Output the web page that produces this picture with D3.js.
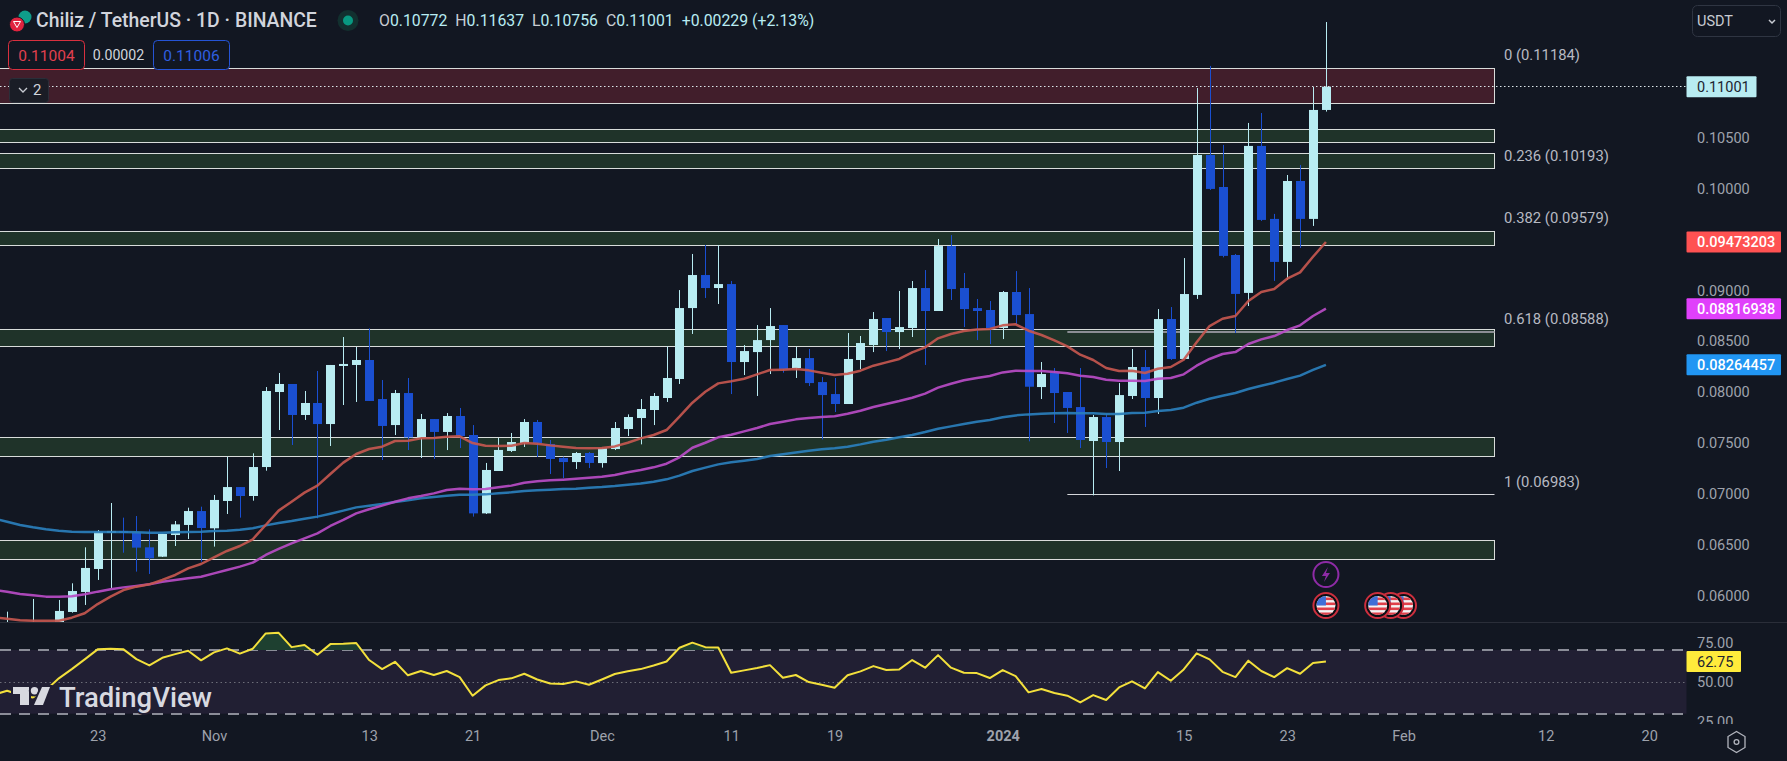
<!DOCTYPE html>
<html>
<head>
<meta charset="utf-8">
<script src="https://cdn.jsdelivr.net/npm/d3@7/dist/d3.min.js"></script>
<style>
html,body{margin:0;padding:0;background:#121722;overflow:hidden}
svg{display:block}
text{font-family:Roboto,"Noto Sans",sans-serif}
</style>
</head>
<body>
<svg id="c" width="1787" height="761"></svg>
<script>
// Prices are given in units of 0.00001 USDT.
const PRICE_UNIT = 1e-5;
const firstDay = Date.UTC(2023, 9, 15);

const highs = [5725,5836,5725,5961,5730,5951,6115,6469,6639,6905,6761,
6777,6646,6600,6728,6859,6869,6984,7361,7062,7394,
8046,8184,8076,8007,8204,8263,8538,8440,8623,8115,
8017,8135,7781,7731,7790,7840,7672,7299,7545,7594,
7731,7722,7525,7361,7407,7407,7449,7702,7777,7928,
7987,8446,9000,9355,9443,9443,9089,8459,8656,8823,
8656,8443,8420,8144,8135,8577,8548,8784,8725,8991,
9089,9197,9502,9541,9168,8912,8892,8991,9187,9020,
8292,8233,7997,8233,7771,7781,8085,8420,8410,8813,
8833,9315,10988,11205,10428,9355,10644,10742,9749,10132,
10231,10998,11637];
const lows = [5650,5660,5650,5660,5660,5680,5826,5902,6148,6069,6416,
6230,6207,6374,6482,6551,6328,6476,6797,6761,6928,
7223,7623,7476,7722,6754,7466,7869,7899,7909,7328,
7574,7426,7348,7338,7426,7446,6771,6797,7220,7407,
7456,7358,7190,7151,7240,7249,7253,7426,7564,7482,
7672,7899,8076,8568,8922,8863,7977,8164,7958,8174,
8187,8135,8056,7531,7800,7879,8223,8390,8400,8420,
8538,8263,8794,8902,8636,8508,8469,8518,8666,7512,
7928,7692,7594,7446,6980,7249,7220,7928,7653,7781,
8312,8322,8913,9985,9322,8577,8843,9680,9090,9099,
9414,9631,10756];
const opens = [5680,5690,5680,5700,5690,5700,5833,6030,6256,6616,6630,
6616,6469,6377,6590,6689,6826,6656,6925,7062,6974,
7259,7997,8076,7771,7889,7682,8253,8263,8312,7928,
7672,7987,7551,7731,7604,7761,7574,6803,7220,7417,
7495,7702,7486,7348,7308,7397,7298,7436,7633,7741,
7820,7938,8125,8823,9148,9020,9059,8292,8390,8508,
8656,8233,8331,8095,7977,7879,8312,8459,8725,8587,
8627,9020,8794,9433,9020,8823,8804,8627,8981,8764,
8046,8184,7997,7849,7515,7751,7505,7958,8243,7938,
8715,8322,8952,10329,10014,9345,8972,10418,9700,9277,
10073,9700,10772];
const closes = [5700,5720,5700,5725,5715,5843,6039,6266,6623,6630,6616,
6466,6361,6600,6695,6826,6659,6935,7062,6974,7259,
8007,8076,7771,7889,7682,8263,8273,8312,7909,7663,
7987,7551,7731,7604,7761,7564,6803,7230,7427,7505,
7702,7495,7338,7308,7397,7299,7443,7643,7751,7830,
7958,8135,8823,9148,9020,9059,8292,8400,8508,8646,
8223,8331,8085,7967,7879,8322,8479,8715,8587,8636,
9020,8794,9433,9010,8813,8794,8627,8981,8754,8049,
8174,7987,7840,7525,7751,7505,7967,8243,7938,8715,
8322,8961,10329,9995,9336,8962,10418,9690,9277,10073,
9700,10772,11001];

const emaRed = [5780,5767,5751,5747,5747,5747,5777,5820,5911,5984,6049,
6082,6105,6148,6197,6262,6305,6371,6433,6482,6548,
6689,6830,6918,7007,7076,7190,7302,7387,7436,7459,
7515,7518,7541,7545,7558,7561,7495,7469,7466,7469,
7495,7489,7472,7459,7446,7443,7446,7462,7498,7541,
7574,7623,7754,7892,8000,8082,8102,8128,8171,8213,
8217,8223,8210,8187,8164,8177,8207,8256,8289,8322,
8387,8436,8525,8568,8597,8613,8617,8653,8663,8600,
8558,8505,8446,8364,8312,8233,8204,8207,8184,8226,
8243,8315,8486,8646,8718,8745,8892,8981,9010,9112,
9174,9328,9473.203];
const emaPurple = [6050,6033,6010,5997,5984,5984,5987,6007,6033,6056,6075,
6089,6105,6131,6148,6164,6180,6213,6246,6279,6318,
6394,6453,6508,6557,6607,6679,6738,6803,6843,6879,
6918,6951,6974,7000,7033,7046,7040,7043,7059,7076,
7105,7118,7128,7135,7144,7154,7164,7180,7207,7230,
7256,7292,7354,7449,7498,7551,7577,7610,7643,7682,
7705,7728,7741,7751,7758,7784,7813,7849,7879,7908,
7941,7981,8040,8079,8112,8135,8154,8190,8207,8204,
8204,8194,8181,8158,8144,8118,8108,8108,8105,8128,
8135,8171,8256,8322,8371,8390,8469,8515,8548,8607,
8653,8745,8816.938];
const emaBlue = [6750,6721,6689,6666,6646,6633,6623,6620,6620,6620,6620,
6617,6613,6613,6617,6620,6623,6630,6633,6643,6656,
6685,6708,6728,6751,6771,6800,6830,6862,6879,6895,
6915,6931,6951,6964,6977,6987,6987,6990,7000,7010,
7023,7030,7036,7043,7046,7056,7062,7072,7085,7098,
7115,7138,7174,7220,7253,7285,7305,7321,7338,7367,
7384,7403,7420,7433,7443,7459,7482,7508,7528,7551,
7574,7603,7636,7659,7682,7705,7721,7748,7767,7777,
7784,7787,7790,7787,7787,7781,7781,7790,7794,7810,
7820,7843,7892,7931,7961,7987,8026,8059,8089,8125,
8158,8214,8264.457];
const rsiValues = [42,44.43,41.7,40.2,44.8,52.2,58,64.1,70.4,70.8,70.4,
64.3,60.3,65.1,67.4,69.5,63.5,68.5,71,67.7,70.8,
80.4,80.8,71.8,73.1,67,73.7,73.9,74.4,63.7,58,
62.6,54.1,56.8,54.3,56.8,53,41.3,47.8,51.1,52.2,
55.1,51.5,49,48.6,50.3,48.2,51.5,54.9,56.6,58,
60.3,62.8,71.4,74.6,71.8,71.6,55.7,57.2,58.7,60.5,
52.6,54.3,49.9,48.2,46.3,54.1,56.6,59.9,57.4,57.8,
63.7,58.9,66.8,58.9,55.7,55.5,52.4,57.4,53.6,43.4,
45.5,43,41.3,37.1,41.7,38.6,46.5,50.3,45.9,56.1,
50.7,57.8,67.9,64.1,56.3,53,63.3,56.8,53,58.6,
55.1,61.8,62.75];

const greenZones = [[10582,10454],[10346,10198],[9578,9440],[8614,8447],[7552,7365],[6541,6351]];
const redZones = [[11182,10837]];
const fibLevels = [["0",0.11184],["0.236",0.10193],["0.382",0.09579],["0.618",0.08588],["1",0.06983]];
const priceTicks = [0.105,0.10,0.09,0.085,0.08,0.075,0.07,0.065,0.06];
const rsiTicks = [75,50,25];
const timeTickDates = [[2023,9,23],[2023,10,1],[2023,10,13],[2023,10,21],[2023,11,1],[2023,11,11],[2023,11,19],[2024,0,1],[2024,0,15],[2024,0,23],[2024,1,1],[2024,1,12],[2024,1,20]];
const timeTickLabels = ["23","Nov","13","21","Dec","11","19","2024","15","23","Feb","12","20"];
const eventFlagDates = [[2024,0,26],[2024,0,30],[2024,0,31],[2024,1,1]];
const titleText = "Chiliz / TetherUS · 1D · BINANCE";
const ohlcParts = [["O","0.10772"],["H","0.11637"],["L","0.10756"],["C","0.11001"]];
const changeText = "+0.00229 (+2.13%)";

const N=highs.length, LAST=N-1;
[highs,lows,opens,closes,emaRed,emaPurple,emaBlue,rsiValues].forEach((a,i)=>{
  if(a.length!==N) throw new Error("array "+i+" has length "+a.length);
});

const BG="#121722", LIGHT="#b8ecf2", BLUE="#1a4fd1", GRID_TXT="#9ea2ac";
const W=1787,H=761,paneBottom=622,plotRight=1686.5,zoneRight=1494.5;
const svg=d3.select("#c");
svg.append("rect").attr("width",W).attr("height",H).attr("fill",BG);
const defs=svg.append("defs");
defs.append("clipPath").attr("id","mainClip").append("rect").attr("width",plotRight).attr("height",paneBottom);
defs.append("clipPath").attr("id","obClip").append("rect").attr("width",plotRight).attr("y",622).attr("height",28);

const x=d3.scaleUtc().domain([new Date(Date.UTC(2023,10,1)),new Date(Date.UTC(2024,0,1))]).range([214,1002.7]);
const y=d3.scaleLinear().domain([0.105,0.06]).range([137.6,595]);
const rsiY=d3.scaleLinear().domain([70,30]).range([650,713.7]);
const dates=highs.map((_,i)=>new Date(firstDay+i*864e5));
const px=v=>y(v*PRICE_UNIT);
const cx=i=>Math.round(x(dates[i]))+0.5;

// main pane
const main=svg.append("g").attr("clip-path","url(#mainClip)");
function zones(list,fill){
  main.append("g").selectAll("rect").data(list).join("rect")
    .attr("x",-2).attr("width",zoneRight+2)
    .attr("y",d=>Math.round(px(d[0]))+0.5)
    .attr("height",d=>Math.round(px(d[1]))-Math.round(px(d[0])))
    .attr("fill",fill).attr("stroke","#d8dcda").attr("stroke-width",1);
}
zones(redZones,"#411e2b");
zones(greenZones,"#1f3329");

// fib lines
const fibStart=new Date(Date.UTC(2024,0,6));
main.append("line").attr("x1",x(fibStart)).attr("x2",zoneRight).attr("y1",y(0.08588)).attr("y2",y(0.08588)).attr("stroke","#8b8e94").attr("stroke-width",2);
main.append("line").attr("x1",x(fibStart)).attr("x2",zoneRight).attr("y1",Math.round(y(0.06983))-0.5).attr("y2",Math.round(y(0.06983))-0.5).attr("stroke","#d4d6da").attr("stroke-width",1);

// candles
const candles=main.append("g");
const idx=d3.range(N);
candles.selectAll("line").data(idx).join("line")
  .attr("x1",cx).attr("x2",cx)
  .attr("y1",i=>px(highs[i])).attr("y2",i=>px(lows[i]))
  .attr("stroke",i=>closes[i]>=opens[i]?LIGHT:BLUE).attr("stroke-width",1);
candles.selectAll("rect").data(idx).join("rect")
  .attr("x",i=>cx(i)-4.5).attr("width",9)
  .attr("y",i=>px(Math.max(opens[i],closes[i])))
  .attr("height",i=>Math.max(2,Math.abs(px(opens[i])-px(closes[i]))))
  .attr("fill",i=>closes[i]>=opens[i]?LIGHT:BLUE);

// moving averages
const lineGen=d3.line().x((d,i)=>x(dates[i])).y(d=>px(d));
[[emaBlue,"#2a7fbc"],[emaPurple,"#b84cc6"],[emaRed,"#c4574f"]].forEach(([a,c])=>{
  main.append("path").attr("d",lineGen(a)).attr("fill","none").attr("stroke",c).attr("stroke-width",2.5).attr("stroke-opacity",0.92).attr("stroke-linejoin","round");
});

// last price dotted
const lastY=Math.round(px(closes[LAST]))-0.5;
svg.append("line").attr("x1",0).attr("x2",plotRight).attr("y1",lastY).attr("y2",lastY).attr("stroke","#dbe6ea").attr("stroke-dasharray","1.5 2.5").attr("stroke-width",1);

// pane separator
svg.append("line").attr("x1",0).attr("x2",W).attr("y1",paneBottom+.5).attr("y2",paneBottom+.5).attr("stroke","#2a2e39");

// RSI pane
svg.append("rect").attr("x",0).attr("width",plotRight).attr("y",rsiY(70)).attr("height",rsiY(30)-rsiY(70)).attr("fill","#211f33");
[70,30].forEach(v=>svg.append("line").attr("x1",0).attr("x2",plotRight).attr("y1",Math.round(rsiY(v))).attr("y2",Math.round(rsiY(v))).attr("stroke","#8b8d98").attr("stroke-width",2).attr("stroke-dasharray","11 8"));
svg.append("line").attr("x1",0).attr("x2",plotRight).attr("y1",Math.round(rsiY(50))+.5).attr("y2",Math.round(rsiY(50))+.5).attr("stroke","#6c6d78").attr("stroke-dasharray","1.5 3");
svg.append("path").attr("clip-path","url(#obClip)")
  .attr("d",d3.area().x((d,i)=>x(dates[i])).y0(rsiY(70)).y1(d=>rsiY(d))(rsiValues))
  .attr("fill","#1e4030");
svg.append("path").attr("d",d3.line().x((d,i)=>x(dates[i])).y(d=>rsiY(d))(rsiValues))
  .attr("fill","none").attr("stroke","#f3e03c").attr("stroke-width",2).attr("stroke-linejoin","round");

// TradingView logo
const logo=svg.append("g").attr("fill","#d8d9e0").attr("stroke","#211f33").attr("stroke-width",4).attr("paint-order","stroke");
logo.append("path").attr("d","M13 687H29V705H20V694H13Z");
logo.append("circle").attr("cx",34.5).attr("cy",690.7).attr("r",3.7);
logo.append("path").attr("d","M42 687H50L43 705H34Z");
logo.append("text").attr("x",59).attr("y",707).attr("font-size",28).attr("font-weight",500).attr("textLength",153).attr("lengthAdjust","spacingAndGlyphs").text("TradingView");

// price axis
const axisR=d3.axisRight(y).tickValues(priceTicks).tickFormat(d3.format(".5f")).tickSize(0).tickPadding(0);
const gR=svg.append("g").attr("transform","translate(1697,0)").call(axisR);
gR.select(".domain").remove();
gR.selectAll("text").attr("fill",GRID_TXT).attr("font-size",14.5).attr("dy","0.35em");

// RSI axis
const axisS=d3.axisRight(rsiY).tickValues(rsiTicks).tickFormat(d3.format(".2f")).tickSize(0).tickPadding(0);
const gS=svg.append("g").attr("transform","translate(1697,0)").call(axisS);
gS.select(".domain").remove();
gS.selectAll("text").attr("fill",GRID_TXT).attr("font-size",14.5).attr("dy","0.35em");
svg.append("rect").attr("x",1687).attr("y",724).attr("width",100).attr("height",37).attr("fill",BG);

// time axis
const tDates=timeTickDates.map(d=>new Date(Date.UTC(d[0],d[1],d[2])));
const axisB=d3.axisBottom(x).tickValues(tDates).tickFormat((d,i)=>timeTickLabels[i]).tickSize(0).tickPadding(0);
const gB=svg.append("g").attr("transform","translate(0,731)").call(axisB);
gB.select(".domain").remove();
gB.selectAll("text").attr("fill",GRID_TXT).attr("font-size",14.5).attr("dy","0.71em")
  .attr("font-weight",(d,i)=>timeTickLabels[i]==="2024"?700:400);

// fib labels
svg.append("g").selectAll("text").data(fibLevels).join("text")
  .attr("x",1504).attr("y",d=>y(d[1])-13).attr("dy","0.35em")
  .attr("fill","#b7bac2").attr("font-size",14.8)
  .text(d=>d[0]+" ("+d[1].toFixed(5)+")");

// price tags
function tag(x0,w,yc,h,fill,txt,color,weight,tx,r){
  svg.append("rect").attr("x",x0).attr("y",yc-h/2).attr("width",w).attr("height",h).attr("rx",r||1).attr("fill",fill);
  svg.append("text").attr("x",tx).attr("y",yc).attr("dy","0.36em").attr("fill",color).attr("font-size",14.5).attr("font-weight",weight).text(txt);
}
tag(1686.5,70,px(closes[LAST]),21,LIGHT,(closes[LAST]*PRICE_UNIT).toFixed(5),"#1d2430",400,1697);
tag(1686.5,94.5,px(emaRed[LAST]),21,"#ff5252",(emaRed[LAST]*PRICE_UNIT).toFixed(8),"#fff",500,1697);
tag(1686.5,94.5,px(emaPurple[LAST]),21,"#e040fb",(emaPurple[LAST]*PRICE_UNIT).toFixed(8),"#fff",500,1697);
tag(1686.5,94.5,px(emaBlue[LAST]),21,"#2196f3",(emaBlue[LAST]*PRICE_UNIT).toFixed(8),"#fff",500,1697);
tag(1686.5,54.5,rsiY(rsiValues[LAST]),21,"#ffeb3b",rsiValues[LAST].toFixed(2),"#1d2430",400,1697);

// USDT selector
svg.append("rect").attr("x",1692.5).attr("y",5.5).attr("width",88).attr("height",31).attr("rx",5).attr("fill",BG).attr("stroke","#2f3542");
svg.append("text").attr("x",1697).attr("y",21).attr("dy","0.36em").attr("fill","#c8cbd2").attr("font-size",14.5).text("USDT");
svg.append("path").attr("d","M1769 20l3 3l3-3").attr("fill","none").attr("stroke","#c8cbd2").attr("stroke-width",1.5);

// header
svg.append("circle").attr("cx",25).attr("cy",17).attr("r",6.5).attr("fill","#0f9d8a");
svg.append("circle").attr("cx",17).attr("cy",24.5).attr("r",7.5).attr("fill","#e0243f").attr("stroke",BG).attr("stroke-width",1);
svg.append("path").attr("d","M13.5 21.5h7l-3.5 6z").attr("fill","none").attr("stroke","#fff").attr("stroke-width",1);
svg.append("text").attr("x",36).attr("y",20.5).attr("dy","0.36em").attr("fill","#d1d4dc").attr("font-size",19.4).attr("font-weight",500).text(titleText);
svg.append("circle").attr("cx",348).attr("cy",20.5).attr("r",10.5).attr("fill","#12302f");
svg.append("circle").attr("cx",348).attr("cy",20.5).attr("r",5).attr("fill","#089981");
const ohlc=svg.append("text").attr("x",379).attr("y",20.5).attr("dy","0.36em").attr("font-size",15.8);
ohlcParts.forEach((p,i)=>{
  ohlc.append("tspan").attr("fill","#c8cbd2").attr("dx",i?8:0).text(p[0]);
  ohlc.append("tspan").attr("fill",LIGHT).text(p[1]);
});
ohlc.append("tspan").attr("fill",LIGHT).attr("dx",8).text(changeText);

// bid/ask
svg.append("rect").attr("x",8.5).attr("y",40.5).attr("width",76).attr("height",29).attr("rx",4).attr("fill",BG).attr("stroke","#d9303f");
svg.append("text").attr("x",46.5).attr("y",55).attr("dy","0.36em").attr("text-anchor","middle").attr("fill","#e2404f").attr("font-size",15.5).text("0.11004");
svg.append("text").attr("x",118.5).attr("y",55).attr("dy","0.36em").attr("text-anchor","middle").attr("fill","#d1d4dc").attr("font-size",14.2).text("0.00002");
svg.append("rect").attr("x",153.5).attr("y",40.5).attr("width",76).attr("height",29).attr("rx",4).attr("fill",BG).attr("stroke","#2554d6");
svg.append("text").attr("x",191.5).attr("y",55).attr("dy","0.36em").attr("text-anchor","middle").attr("fill","#2f5fe0").attr("font-size",15.5).text("0.11006");

// collapsed indicators
svg.append("rect").attr("x",9.5).attr("y",78.5).attr("width",39).attr("height",24).attr("rx",3).attr("fill","#1a1d26").attr("stroke","#2a2e39");
svg.append("path").attr("d","M19 88l4 4l4-4").attr("fill","none").attr("stroke","#c8cbd2").attr("stroke-width",1.3);
svg.append("text").attr("x",33).attr("y",90).attr("dy","0.36em").attr("fill","#d1d4dc").attr("font-size",15).text("2");

// events
const eventX=d=>x(new Date(Date.UTC(d[0],d[1],d[2])));
const flagX=eventX(eventFlagDates[0]);
svg.append("ellipse").attr("cx",flagX).attr("cy",574.5).attr("rx",12.5).attr("ry",12.5).attr("fill",BG).attr("stroke","#8e2ba6").attr("stroke-width",2);
svg.append("path").attr("d",`M${flagX+2} 567l-6 9h4l-2 6l6-9h-4z`).attr("fill","#8e2ba6");
eventFlagDates.slice().reverse().forEach((d,k)=>{
  const cxv=eventX(d),cy=605.5,id="fl"+k;
  defs.append("clipPath").attr("id",id).append("circle").attr("cx",cxv).attr("cy",cy).attr("r",9.5);
  const g=svg.append("g");
  g.append("circle").attr("cx",cxv).attr("cy",cy).attr("r",12.5).attr("fill","#0b0e14").attr("stroke","#cc2f3e").attr("stroke-width",2);
  const f=g.append("g").attr("clip-path",`url(#${id})`);
  f.append("rect").attr("x",cxv-10).attr("y",cy-10).attr("width",20).attr("height",20).attr("fill","#f4f4f4");
  [-8,-3,2,7].forEach(o=>f.append("rect").attr("x",cxv-10).attr("y",cy+o).attr("width",20).attr("height",2.6).attr("fill","#e0404a"));
  f.append("rect").attr("x",cxv-10).attr("y",cy-10).attr("width",10).attr("height",10).attr("fill","#3f6fd8");
});

// settings hex
svg.append("path").attr("d","M1731 733.5h11l5 8.5l-5 8.5h-11l-5-8.5z").attr("transform","rotate(90 1736.5 742)").attr("fill","none").attr("stroke","#b2b5be").attr("stroke-width",1.3);
svg.append("circle").attr("cx",1736.5).attr("cy",742).attr("r",2.4).attr("fill","none").attr("stroke","#b2b5be").attr("stroke-width",1.3);
</script>
</body>
</html>
